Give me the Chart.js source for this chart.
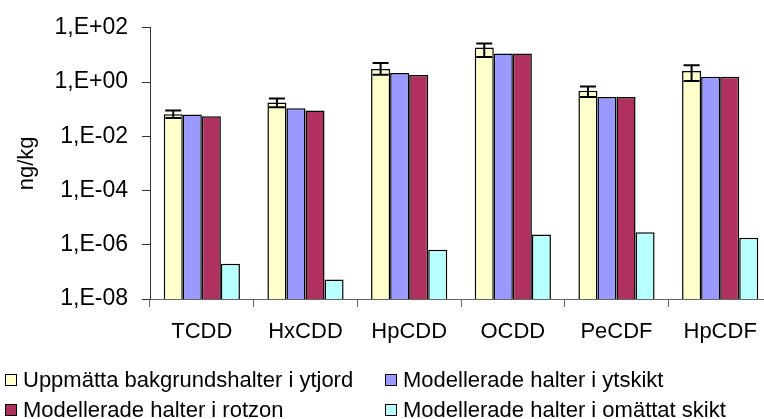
<!DOCTYPE html>
<html>
<head>
<meta charset="utf-8">
<script src="https://cdn.jsdelivr.net/npm/chart.js@4.4.1/dist/chart.umd.min.js"></script>
<style>
  body { margin: 0; background: #fff; overflow: hidden; }
  #wrap { position: relative; width: 780px; height: 419px; }
  #legend { position: absolute; left: 0; top: 367px; width: 764px;
            font-family: "Liberation Sans", Arial, sans-serif; font-size: 22px; color: #000; }
  .item { position: absolute; white-space: nowrap; line-height: 26px; }
  .box { display: inline-block; width: 10px; height: 10px; border: 1px solid #000;
         margin-right: 6px; vertical-align: 1px; }
</style>
</head>
<body>
<div id="wrap">
  <canvas id="chart" width="780" height="419"></canvas>
  <div id="legend"></div>
</div>
<script>
// categories and series (ng/kg)
const categories = ['TCDD', 'HxCDD', 'HpCDD', 'OCDD', 'PeCDF', 'HpCDF'];
const seriesNames = [
    'Uppmätta bakgrundshalter i ytjord',
    'Modellerade halter i ytskikt',
    'Modellerade halter i rotzon',
    'Modellerade halter i omättat skikt'
];
const measured = [0.065, 0.176, 3.0, 18.8, 0.48, 2.55];
const measuredLow = [0.047, 0.117, 1.86, 8.4, 0.28, 1.1];
const measuredHigh = [0.09, 0.245, 5.0, 26.3, 0.69, 4.2];
const surfaceLayer = [0.063, 0.107, 2.15, 11.4, 0.28, 1.58];
const rootZone = [0.055, 0.089, 1.82, 11.4, 0.28, 1.58];
const unsaturated = [2.0e-7, 5.2e-8, 6.5e-7, 2.4e-6, 2.9e-6, 1.8e-6];
const yTicks = [1e-8, 1e-6, 1e-4, 1e-2, 1, 100];
const yTickLabels = ['1,E-08', '1,E-06', '1,E-04', '1,E-02', '1,E+00', '1,E+02'];

const colors = ['#FFFFCC', '#9999FF', '#B03060', '#B8FFFF'];
const FONT = '"Liberation Sans", Arial, sans-serif';

// error bars on the measured series
const errorBars = {
    id: 'errorBars',
    afterDatasetsDraw(chart) {
        const meta = chart.getDatasetMeta(0);
        const y = chart.scales.y;
        const ctx = chart.ctx;
        ctx.save();
        ctx.strokeStyle = '#000';
        ctx.lineWidth = 2;
        meta.data.forEach((bar, i) => {
            const top = y.getPixelForValue(measuredHigh[i]);
            const bot = y.getPixelForValue(measuredLow[i]);
            const x = bar.x;
            ctx.beginPath();
            ctx.moveTo(x, top); ctx.lineTo(x, bot);
            ctx.moveTo(x - 8, top); ctx.lineTo(x + 8, top);
            ctx.moveTo(x - 8, bot); ctx.lineTo(x + 8, bot);
            ctx.stroke();
        });
        ctx.restore();
    }
};

const seriesData = [measured, surfaceLayer, rootZone, unsaturated];

const chart = new Chart(document.getElementById('chart'), {
    type: 'bar',
    data: {
        labels: categories,
        datasets: seriesData.map((d, i) => ({
            label: seriesNames[i],
            data: d,
            backgroundColor: colors[i],
            borderColor: '#000',
            borderWidth: 1.5,
            categoryPercentage: 0.735,
            barPercentage: 1.0
        }))
    },
    options: {
        responsive: false,
        animation: false,
        devicePixelRatio: 1,
        layout: { padding: { top: 23, right: 8, left: 0, bottom: 0 } },
        plugins: { legend: { display: false }, tooltip: { enabled: false } },
        scales: {
            x: {
                offset: true,
                grid: { offset: true, drawOnChartArea: false, drawTicks: true, tickLength: 8, color: '#666' },
                border: { display: true, color: '#666', width: 1 },
                ticks: { color: '#000', padding: 12, font: { family: FONT, size: 22 } },
                afterFit(scale) { scale.height = 120; }
            },
            y: {
                type: 'logarithmic',
                min: 1e-8,
                max: 100,
                afterBuildTicks(scale) { scale.ticks = yTicks.map(v => ({ value: v })); },
                grid: { drawOnChartArea: false, drawTicks: true, tickLength: 8, color: '#333' },
                border: { display: true, color: '#333', width: 1 },
                ticks: {
                    color: '#000', padding: 14, font: { family: FONT, size: 23 },
                    callback: function (v) {
                        const i = yTicks.indexOf(v);
                        return i >= 0 ? yTickLabels[i] : '';
                    }
                },
                title: { display: true, text: 'ng/kg', color: '#000', padding: { top: 14, bottom: 0 },
                         font: { family: FONT, size: 22 } },
                afterFit(scale) { scale.width = 150; }
            }
        }
    },
    plugins: [errorBars]
});

// legend, two columns
const legend = document.getElementById('legend');
seriesNames.forEach((name, i) => {
    const item = document.createElement('div');
    item.className = 'item';
    item.style.left = (i % 2 === 0 ? 5 : 385) + 'px';
    item.style.top = (Math.floor(i / 2) * 30) + 'px';
    item.innerHTML = '<span class="box" style="background:' + colors[i] + '"></span>' + name;
    legend.appendChild(item);
});
</script>
</body>
</html>
